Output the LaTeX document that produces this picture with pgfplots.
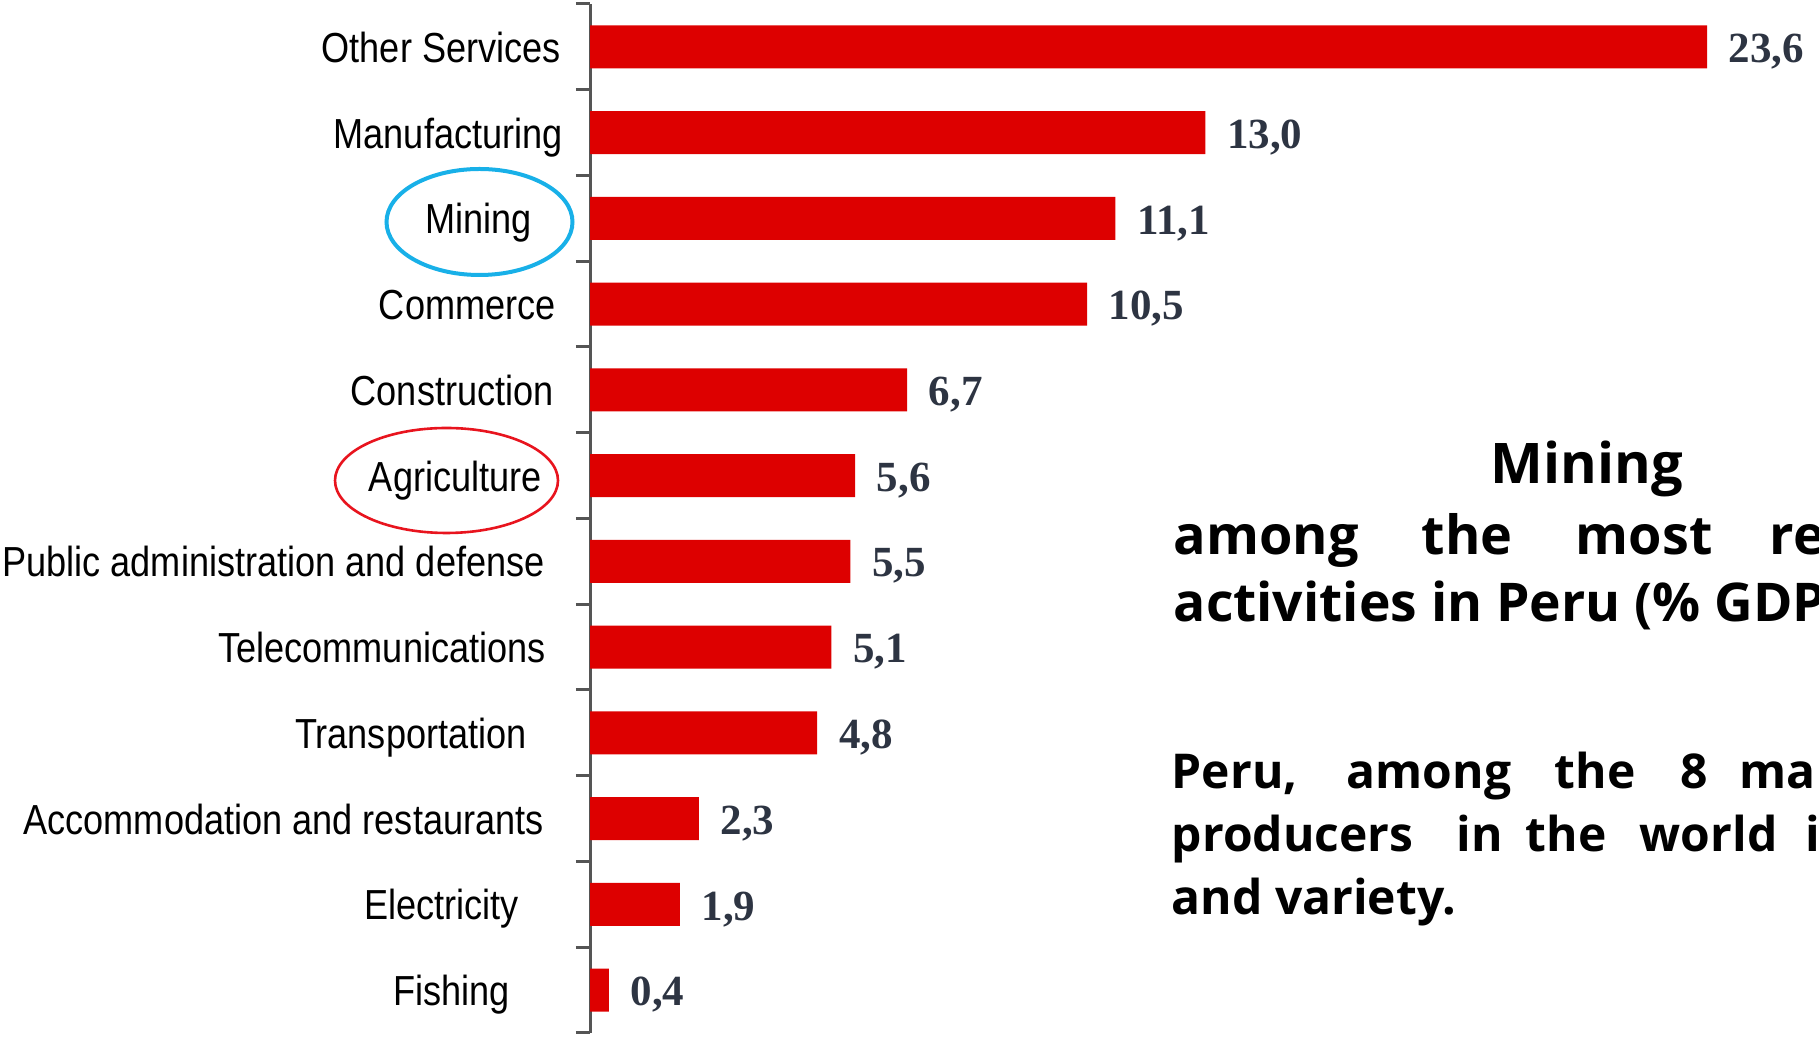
\documentclass[border=0pt]{standalone}
\usepackage{fontspec}
\usepackage{pgfplots}
\pgfplotsset{compat=1.18}
\setmainfont{Liberation Sans}
\newfontfamily\catfont[FakeStretch=0.86]{Liberation Sans}
\newfontfamily\valfont{Liberation Serif}
\newfontfamily\rfont{Open Sans}
\definecolor{barred}{RGB}{221,0,0}
\definecolor{valcol}{RGB}{45,52,66}
\definecolor{ringblue}{RGB}{24,176,232}
\definecolor{ringred}{RGB}{232,20,30}
\definecolor{axgray}{RGB}{85,85,85}
\begin{document}
\begin{tikzpicture}[x=0.25pt,y=0.25pt]
\useasboundingbox (0,0) rectangle (1819,1038);
\begin{axis}[
  at={(147.5pt,1.25pt)}, anchor=south west,
  scale only axis, width=295.83pt, height=257.25pt,
  xmin=0, xmax=25, ymin=-0.5, ymax=11.5,
  axis x line=none,
  axis y line*=left,
  y axis line style={axgray, line width=0.75pt, -},
  xbar, bar width=0.5, bar shift=0pt,
  ytick={0,...,11},
  yticklabels={
    Fishing\hspace*{13.25pt},
    Electricity\hspace*{11pt},
    Accommodation and restaurants\hspace*{4.75pt},
    Transportation\hspace*{9pt},
    Telecommunications\hspace*{4.25pt},
    Public administration and defense\hspace*{4.5pt},
    Agriculture\hspace*{5.25pt},
    Construction\hspace*{2.25pt},
    Commerce\hspace*{1.75pt},
    Mining\hspace*{7.75pt},
    Manufacturing,
    Other Services\hspace*{0.5pt}},
  major tick length=0pt,
  minor ytick={-0.5,0.5,...,11.5},
  minor tick length=3.5pt,
  tick align=outside,
  tick pos=left,
  tick style={axgray, line width=0.75pt},
  yticklabel style={font=\catfont\fontsize{10.5pt}{12pt}\selectfont, anchor=base east, inner sep=0pt, xshift=-6.65pt, yshift=-3.9pt},
  clip=false,
  point meta=x,
  nodes near coords={\pgfmathprintnumber[use comma,fixed,fixed zerofill,precision=1,assume math mode=true]{\pgfplotspointmeta}},
  nodes near coords style={anchor=west, font=\valfont\bfseries\fontsize{10.75pt}{12pt}\selectfont, text=valcol, inner sep=0pt, xshift=5.25pt, yshift=-1.2pt},
]
\addplot[fill=barred, draw=none] coordinates {(0.4,0) (1.9,1) (2.3,2) (4.8,3) (5.1,4) (5.5,5) (5.6,6) (6.7,7) (10.5,8) (11.1,9) (13.0,10) (23.6,11)};
\end{axis}
\draw[ringblue, line width=1pt] (479.5,816) ellipse [x radius=93, y radius=53];
\draw[ringred, line width=0.65pt] (446.5,557.5) ellipse [x radius=111.5, y radius=52.5];
\begin{scope}
\clip (0,0) rectangle (1819,1038);
\tikzset{w/.style={anchor=base west, inner sep=0pt, font=\rfont\bfseries\fontsize{12pt}{14pt}\selectfont},
         v/.style={anchor=base west, inner sep=0pt, font=\rfont\bfseries\fontsize{13.5pt}{16pt}\selectfont}}
\node[anchor=base west, inner sep=0pt, font=\rfont\bfseries\fontsize{14pt}{16pt}\selectfont] at (1490,554) {Mining};
\node[v] at (1173,483) {among};
\node[v] at (1421,483) {the};
\node[v] at (1575,483) {most};
\node[v] at (1769,483) {re};
\node[anchor=base west, inner sep=0pt, font=\rfont\bfseries\fontsize{13.35pt}{16pt}\selectfont] at (1173,416) {activities in Peru (\% GDP};
\node[w] at (1171,249) {Peru,};
\node[w] at (1346,249) {among};
\node[w] at (1554,249) {the};
\node[w] at (1680,249) {8};
\node[w] at (1739,249) {ma};
\node[w] at (1171,186) {producers};
\node[w] at (1456,186) {in};
\node[w] at (1525,186) {the};
\node[w] at (1639,186) {world};
\node[w] at (1805,186) {i};
\node[w] at (1171,123) {and variety.};
\end{scope}
\end{tikzpicture}
\end{document}
